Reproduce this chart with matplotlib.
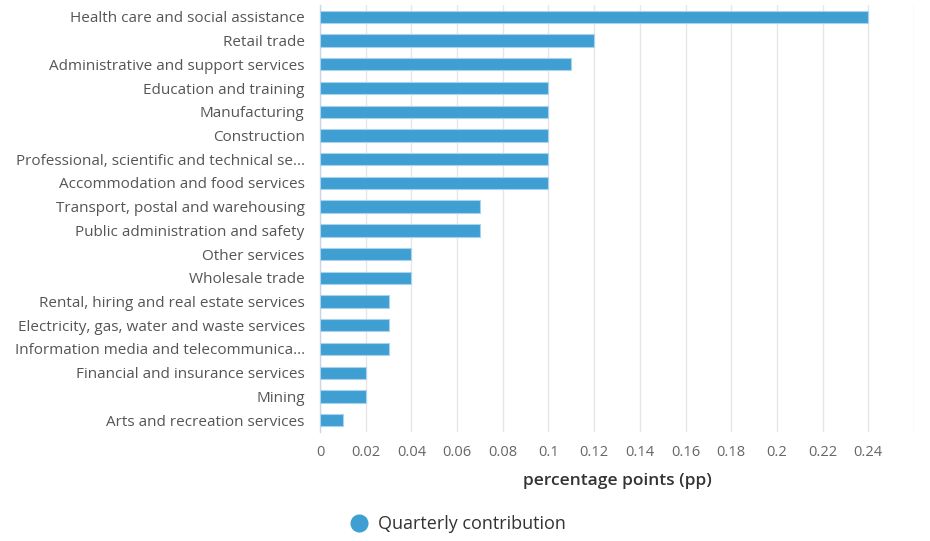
import matplotlib
matplotlib.use("Agg")
from matplotlib import pyplot as plt
from matplotlib.lines import Line2D

plt.rcParams['font.family'] = ['Open Sans', 'DejaVu Sans']

industries = [
    "Health care and social assistance",
    "Retail trade",
    "Administrative and support services",
    "Education and training",
    "Manufacturing",
    "Construction",
    "Professional, scientific and technical se...",
    "Accommodation and food services",
    "Transport, postal and warehousing",
    "Public administration and safety",
    "Other services",
    "Wholesale trade",
    "Rental, hiring and real estate services",
    "Electricity, gas, water and waste services",
    "Information media and telecommunica...",
    "Financial and insurance services",
    "Mining",
    "Arts and recreation services",
]
contribution = [0.24, 0.12, 0.11, 0.10, 0.10, 0.10, 0.10, 0.10, 0.07, 0.07,
                0.04, 0.04, 0.03, 0.03, 0.03, 0.02, 0.02, 0.01]
xticks = [0, 0.02, 0.04, 0.06, 0.08, 0.1, 0.12, 0.14, 0.16, 0.18, 0.2, 0.22, 0.24]
xtick_labels = ["0", "0.02", "0.04", "0.06", "0.08", "0.1", "0.12", "0.14",
                "0.16", "0.18", "0.2", "0.22", "0.24"]

BAR = "#3f9fd3"

fig = plt.figure(figsize=(9.3, 5.41), dpi=100)
ax = fig.add_axes([320 / 930, 1 - 432 / 541, (914 - 320) / 930, (432 - 5) / 541])

ypos = list(range(len(industries)))
ax.barh(ypos, contribution, height=0.52, color=BAR, edgecolor="#a9d3ec",
        linewidth=0.8, zorder=3)
ax.set_ylim(len(industries) - 0.5, -0.5)
ax.set_xlim(0, 0.26)
ax.set_yticks(ypos)
ax.set_yticklabels(industries, fontsize=11, color="#555555")
ax.set_xticks(xticks + [0.26])
ax.set_xticklabels(xtick_labels + [""], fontsize=10.5, color="#666666")
ax.grid(axis="x", color="#e6e6e6", linewidth=1, zorder=0)
ax.tick_params(axis="both", length=0)
ax.tick_params(axis="x", pad=9)
ax.tick_params(axis="y", pad=11)
for s in ["top", "right", "bottom"]:
    ax.spines[s].set_visible(False)
ax.spines["left"].set_color("#ccd6eb")
ax.spines["left"].set_linewidth(1)

ax.set_xlabel("percentage points (pp)", fontsize=12.5, color="#333333",
              fontweight="semibold", labelpad=10)

handle = Line2D([], [], marker="o", linestyle="none", markersize=12,
                markerfacecolor=BAR, markeredgecolor=BAR)
fig.legend([handle], ["Quarterly contribution"], loc="center",
           bbox_to_anchor=(453 / 930, 1 - 524 / 541), frameon=False,
           fontsize=13, handletextpad=0.05, labelcolor="#333333")

plt.savefig("out.png", dpi=100)
